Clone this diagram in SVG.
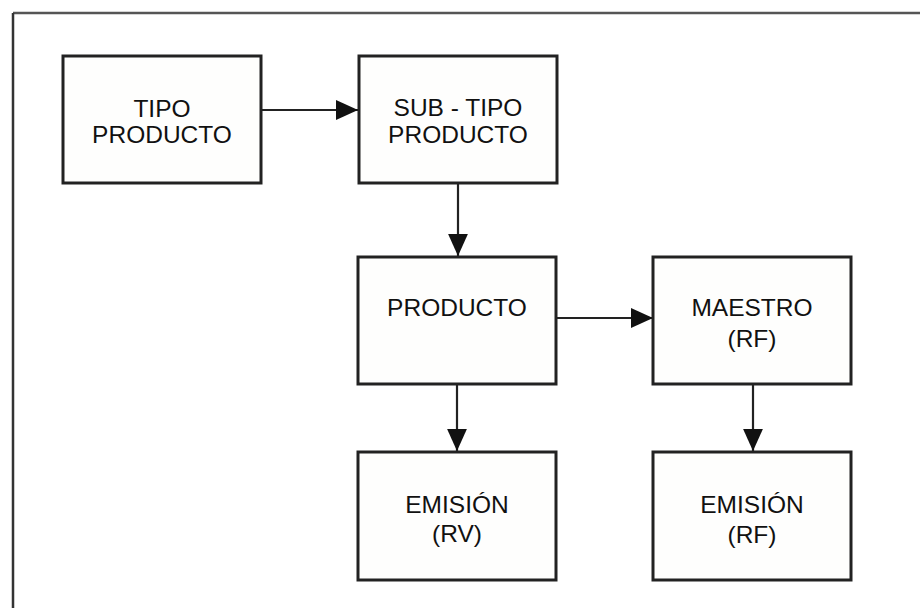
<svg xmlns="http://www.w3.org/2000/svg" width="920" height="608" viewBox="0 0 920 608">
<style>
.box{fill:#fefefd;stroke:#222;stroke-width:3}
.lbl{font-family:"Liberation Sans",Arial,sans-serif;font-size:24.5px;fill:#111;text-anchor:middle}
.conn{stroke:#222;stroke-width:2.2;fill:none}
</style>
<defs>
<marker id="arr" markerUnits="userSpaceOnUse" markerWidth="22" markerHeight="22" viewBox="0 0 20 20" refX="20" refY="10" orient="auto">
<path d="M0,1 L20,10 L0,19 Z" fill="#111"/>
</marker>
</defs>
<rect width="920" height="608" fill="#fff"/>
<g id="frame">
<line x1="13" y1="13" x2="920" y2="13" stroke="#555" stroke-width="2.5"/>
<line x1="13" y1="13" x2="13" y2="608" stroke="#333" stroke-width="2.5"/>
</g>
<g id="connectors">
<line class="conn" x1="262" y1="110" x2="358" y2="110" marker-end="url(#arr)"/>
<line class="conn" x1="458" y1="184" x2="458" y2="256" marker-end="url(#arr)"/>
<line class="conn" x1="557" y1="318" x2="653" y2="318" marker-end="url(#arr)"/>
<line class="conn" x1="457" y1="385" x2="457" y2="451" marker-end="url(#arr)"/>
<line class="conn" x1="753" y1="385" x2="753" y2="451" marker-end="url(#arr)"/>
</g>
<g id="tipo-producto">
<rect class="box" x="63" y="56" width="198" height="127"/>
<text class="lbl" x="162" y="117">TIPO</text>
<text class="lbl" x="162" y="143">PRODUCTO</text>
</g>
<g id="sub-tipo-producto">
<rect class="box" x="359" y="56" width="198" height="127"/>
<text class="lbl" x="458" y="116">SUB - TIPO</text>
<text class="lbl" x="458" y="143">PRODUCTO</text>
</g>
<g id="producto">
<rect class="box" x="358" y="257" width="198" height="127"/>
<text class="lbl" x="457" y="316">PRODUCTO</text>
</g>
<g id="maestro-rf">
<rect class="box" x="653" y="257" width="198" height="127"/>
<text class="lbl" x="752" y="316">MAESTRO</text>
<text class="lbl" x="752" y="347">(RF)</text>
</g>
<g id="emision-rv">
<rect class="box" x="358" y="452" width="198" height="128"/>
<text class="lbl" x="457" y="513">EMISIÓN</text>
<text class="lbl" x="457" y="542">(RV)</text>
</g>
<g id="emision-rf">
<rect class="box" x="653" y="452" width="198" height="128"/>
<text class="lbl" x="752" y="513">EMISIÓN</text>
<text class="lbl" x="752" y="543">(RF)</text>
</g>
</svg>
